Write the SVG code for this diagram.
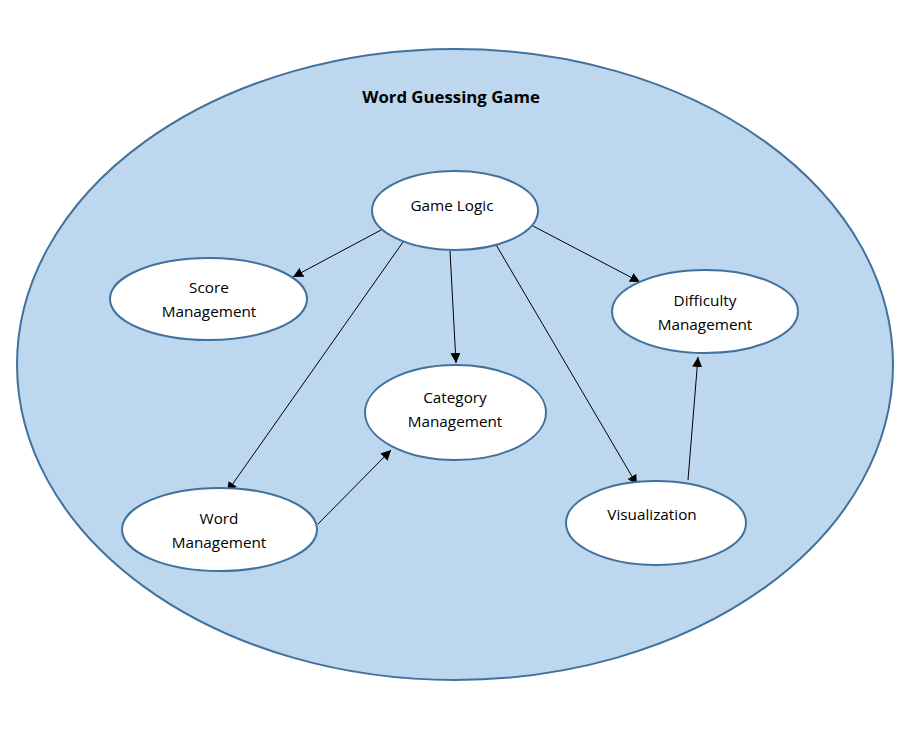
<svg xmlns="http://www.w3.org/2000/svg" width="913" height="731" viewBox="0 0 913 731">
<style>
.node{fill:#fff;stroke:#41719C;stroke-width:2}
.t{font-family:"Open Sans","Liberation Sans",sans-serif;font-size:15.3px;fill:#000;text-anchor:middle}
.title{font-family:"Open Sans","Liberation Sans",sans-serif;font-size:16.8px;font-weight:bold;fill:#000;text-anchor:middle}
.c{stroke:#000;stroke-width:1;fill:none;marker-end:url(#ah)}
</style>
<defs>
<marker id="ah" viewBox="0 0 10 10" refX="10" refY="5" markerWidth="10" markerHeight="10" markerUnits="userSpaceOnUse" orient="auto">
<path d="M0,0 L10,5 L0,10 z" fill="#000"/>
</marker>
</defs>
<rect width="913" height="731" fill="#fff"/>
<g id="system">
<ellipse cx="455" cy="364.5" rx="438" ry="315.5" fill="#BDD7EE" stroke="#41719C" stroke-width="2"/>
<text class="title" x="451" y="103">Word Guessing Game</text>
</g>
<g id="connectors">
<line class="c" x1="381" y1="230" x2="293" y2="277"/>
<line class="c" x1="403" y1="242" x2="227" y2="492"/>
<line class="c" x1="450" y1="251" x2="456" y2="363"/>
<line class="c" x1="495" y1="243" x2="637" y2="485"/>
<line class="c" x1="533" y1="226" x2="640" y2="282"/>
<line class="c" x1="318" y1="524" x2="391" y2="450"/>
<line class="c" x1="688" y1="480" x2="698" y2="357"/>
</g>
<g id="game-logic">
<ellipse class="node" cx="455" cy="210.5" rx="83" ry="39.5"/>
<text class="t" x="452" y="211">Game Logic</text>
</g>
<g id="score-management">
<ellipse class="node" cx="208.5" cy="299" rx="98.5" ry="41"/>
<text class="t" x="209" y="293">Score</text>
<text class="t" x="209" y="317">Management</text>
</g>
<g id="difficulty-management">
<ellipse class="node" cx="705" cy="311.5" rx="93" ry="41.5"/>
<text class="t" x="705" y="306">Difficulty</text>
<text class="t" x="705" y="330">Management</text>
</g>
<g id="category-management">
<ellipse class="node" cx="455.5" cy="412.5" rx="90.5" ry="47.5"/>
<text class="t" x="455" y="403">Category</text>
<text class="t" x="455" y="427">Management</text>
</g>
<g id="word-management">
<ellipse class="node" cx="219.5" cy="529.5" rx="97.5" ry="41.5"/>
<text class="t" x="219" y="524">Word</text>
<text class="t" x="219" y="548">Management</text>
</g>
<g id="visualization">
<ellipse class="node" cx="656" cy="523" rx="90" ry="42"/>
<text class="t" x="652" y="520">Visualization</text>
</g>
</svg>
